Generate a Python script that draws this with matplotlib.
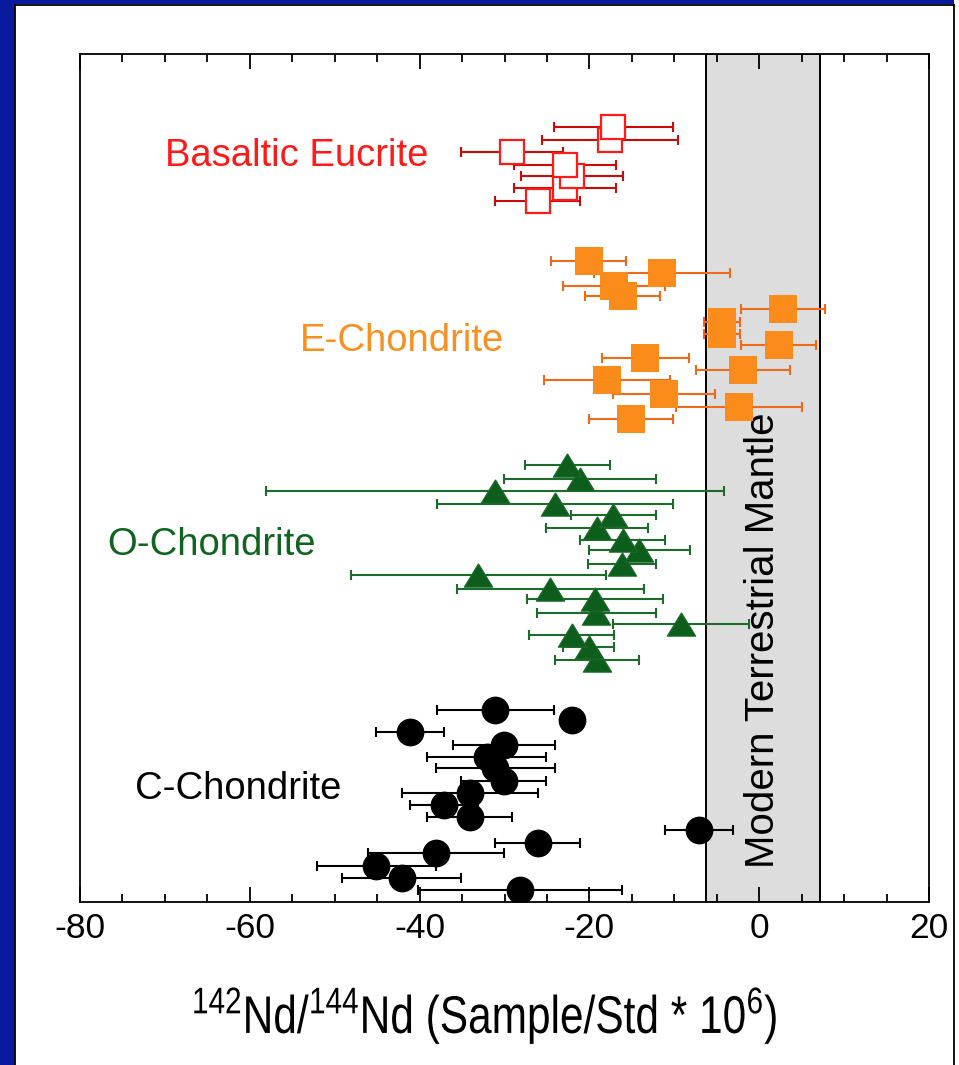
import matplotlib
matplotlib.use("Agg")
import matplotlib.pyplot as plt
from matplotlib.patches import Rectangle, PathPatch
from matplotlib.lines import Line2D
from matplotlib.ticker import MultipleLocator
from matplotlib.textpath import TextPath
from matplotlib.font_manager import FontProperties
from matplotlib.transforms import Affine2D, IdentityTransform

# epsilon 142Nd values, 2-sigma errors and row positions (top row first)
eucrite_x = [-17.2, -17.6, -29.1, -22.9, -22.1, -22.9, -26.1]
eucrite_err = [7, 8, 6, 6, 6, 6, 5]
eucrite_y = [62.1, 61.1, 60.1, 59.1, 58.2, 57.2, 56.2]

echon_x = [-20.1, -11.4, -17.1, -16.1, 2.8, -4.4, -4.4, 2.3, -13.4, -1.9,
           -17.9, -11.2, -2.4, -15.1]
echon_err = [4.4, 8, 6, 4.4, 4.9, 2.1, 2.1, 4.4, 5.1, 5.5, 7.4, 6, 7.4, 5]
echon_y = [51.4, 50.4, 49.4, 48.6, 47.5, 46.5, 45.5, 44.6, 43.6, 42.6,
           41.8, 40.7, 39.7, 38.7]

ochon_x = [-22.6, -21.1, -31.1, -24.1, -17.2, -19.1, -16.1, -14.1, -16.2,
           -33.1, -24.6, -19.3, -19.2, -9.2, -22.1, -20.1, -19.1]
ochon_err = [5, 9, 27, 13.9, 5, 6, 5, 6, 4, 15, 11, 8, 7, 8, 5, 3, 5]
ochon_y = [35.0, 33.9, 32.9, 31.9, 31.0, 30.0, 29.0, 28.2, 27.1, 26.2,
           25.1, 24.3, 23.2, 22.3, 21.4, 20.4, 19.4]

cchon_x = [-31.1, -22.1, -41.1, -30.1, -32.1, -31.1, -30.1, -34.1, -37.1,
           -34.1, -7.1, -26.1, -38.1, -45.1, -42.1, -28.2]
cchon_err = [6.9, 1, 4, 6, 7, 7, 5, 8, 4, 5, 4, 5, 8, 7, 7, 12]
cchon_y = [15.4, 14.6, 13.6, 12.6, 11.6, 10.7, 9.7, 8.7, 7.8, 6.8, 5.8,
           4.7, 3.9, 2.9, 1.9, 1.0]

# modern terrestrial mantle range
mantle_lo, mantle_hi = -6.3, 7.2

group_names = ["Basaltic Eucrite", "E-Chondrite", "O-Chondrite", "C-Chondrite"]
group_label_x = [-70.0, -54.1, -76.8, -73.5]
group_label_y = [59.75, 44.95, 28.65, 9.05]

xticks = [-80, -60, -40, -20, 0, 20]
xlabel = r"$^{142}$Nd/$^{144}$Nd (Sample/Std * 10$^{6}$)"

BLUE = "#0a1a9e"
W, H = 959, 1065


def draw_group(ax, x, err, y, marker, size, face, edge, bar, mew=0.0):
    # bottom rows first so the upper markers sit on top
    ax.errorbar(x[::-1], y[::-1], xerr=err[::-1], fmt="none", ecolor=bar,
                elinewidth=1.5, capsize=3.6, capthick=1.5, zorder=3)
    ax.plot(x[::-1], y[::-1], linestyle="none", marker=marker, ms=size,
            mfc=face, mec=edge, mew=mew, zorder=4)


def add_narrow_text(fig, text, cx, baseline, size_px, squeeze):
    # condensed label: glyph outlines squeezed horizontally, placed in pixels
    tp = TextPath((0, 0), text, size=size_px,
                  prop=FontProperties(family="Liberation Sans"))
    ext = tp.get_extents()
    x0 = cx - ext.width * squeeze / 2 - ext.x0 * squeeze
    tr = Affine2D().scale(squeeze, 1).translate(x0, H - baseline)
    patch = PathPatch(tr.transform_path(tp), transform=IdentityTransform(),
                      facecolor="black", edgecolor="none")
    fig.add_artist(patch)


def add_frame(fig):
    t = fig.transFigure
    fig.add_artist(Rectangle((0, 0), 14.5 / W, 1, transform=t,
                             facecolor=BLUE, edgecolor="none"))
    fig.add_artist(Rectangle((0, 1 - 4.3 / H), 954 / W, 4.3 / H, transform=t,
                             facecolor=BLUE, edgecolor="none"))
    fig.add_artist(Line2D([15.3 / W, 15.3 / W], [0, 1 - 5 / H], transform=t,
                          color="black", lw=1.3))
    fig.add_artist(Line2D([15 / W, 954 / W], [1 - 5 / H, 1 - 5 / H],
                          transform=t, color="black", lw=1.3))
    fig.add_artist(Line2D([953.8 / W, 953.8 / W], [0, 1 - 5 / H], transform=t,
                          color="black", lw=1.3))


def main() -> None:
    plt.rcParams["font.family"] = ["Liberation Sans", "DejaVu Sans"]
    plt.rcParams["mathtext.default"] = "regular"

    fig = plt.figure(figsize=(W / 100, H / 100), dpi=100)
    fig.patch.set_facecolor("white")
    ax = fig.add_axes([80 / W, 1 - 902 / H, 849 / W, 848.5 / H])

    ax.axvspan(mantle_lo, mantle_hi, facecolor="#dcdddc", edgecolor="black",
               lw=1.4, zorder=1)
    ax.text((mantle_lo + mantle_hi) / 2, 21.0, "Modern Terrestrial Mantle",
            rotation=90, ha="center", va="center", fontsize=29, zorder=2)

    draw_group(ax, eucrite_x, eucrite_err, eucrite_y, "s", 17.5, "white",
               "#ff1a1a", "#cc0a0a", mew=1.6)
    draw_group(ax, echon_x, echon_err, echon_y, "s", 20, "#fb8c1c",
               "#fb8c1c", "#ee6a1a")
    tri = [(0, 0.82), (-1, -0.82), (1, -0.82), (0, 0.82)]
    draw_group(ax, ochon_x, ochon_err, ochon_y, tri, 20.5, "#0d5e1c",
               "#1d6b2a", "#1d6b2a", mew=0.8)
    draw_group(ax, cchon_x, cchon_err, cchon_y, "o", 20, "black", "black",
               "black")

    colors = ["#ff1a1a", "#f7901e", "#0f641f", "black"]
    for name, gx, gy, c in zip(group_names, group_label_x, group_label_y, colors):
        ax.text(gx, gy, name, color=c, fontsize=27.5, ha="left", va="center")

    ax.set_xlim(-80, 20)
    ax.set_ylim(0, 68)
    ax.set_xticks(xticks)
    ax.set_xticklabels([str(v) for v in xticks])
    ax.xaxis.set_minor_locator(MultipleLocator(5))
    ax.set_yticks([])
    ax.tick_params(axis="x", which="both", direction="in", top=True,
                   bottom=True, width=1.3, labelsize=25.5, pad=7)
    ax.tick_params(axis="x", which="major", length=10.5)
    ax.tick_params(axis="x", which="minor", length=5.5)
    for s in ax.spines.values():
        s.set_linewidth(1.3)

    add_narrow_text(fig, xlabel, 485, 1033, 53, 0.8)

    add_frame(fig)
    fig.savefig("out.png", dpi=100, facecolor="white")


if __name__ == "__main__":
    main()
